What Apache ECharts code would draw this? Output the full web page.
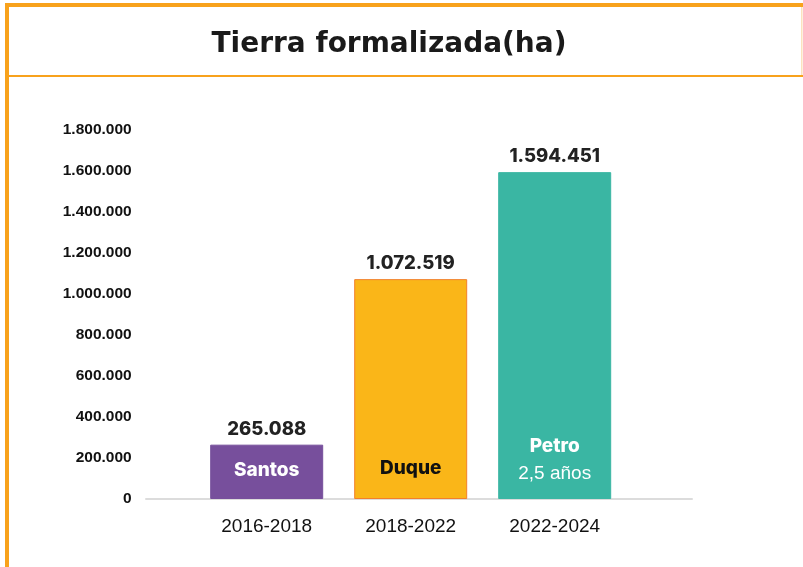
<!DOCTYPE html>
<html>
<head>
<meta charset="utf-8">
<script src="https://cdn.jsdelivr.net/npm/echarts@6/dist/echarts.min.js"></script>
<style>
  html, body { margin: 0; padding: 0; background: #fff; }
  #chart { width: 803px; height: 567px; }
</style>
</head>
<body>
<div id="chart"></div>
<script>
// ---- Data ----
var titleText = 'Tierra formalizada(ha)';
var periods = ['2016-2018', '2018-2022', '2022-2024'];
var leaders = ['Santos', 'Duque', 'Petro'];
var notes = ['', '', '2,5 años'];
var hectares = [265088, 1072519, 1594451];
var yTicks = [0, 200000, 400000, 600000, 800000, 1000000, 1200000, 1400000, 1600000, 1800000];

// ---- Styles ----
var barColors = ['#774F9C', '#FAB618', '#3AB6A3'];
var borderColors = ['#774F9C', '#F2802A', '#3AB6A3'];
var insideColors = ['#ffffff', '#111111', '#ffffff'];
var orange = '#F8A21C';

function fmt(v) {
  return String(v).replace(/\B(?=(\d{3})+(?!\d))/g, '.');
}

var valueData = hectares.map(function (v, i) {
  return {
    value: v,
    itemStyle: { color: barColors[i], borderColor: borderColors[i], borderWidth: 1 }
  };
});

var nameData = hectares.map(function (v, i) {
  var hasNote = notes[i] !== '';
  return {
    value: v,
    label: {
      distance: hasNote ? 11 : (i === 1 ? 17 : 15),
      color: insideColors[i],
      formatter: hasNote ? '{a|' + leaders[i] + '}\n{b|' + notes[i] + '}' : '{a|' + leaders[i] + '}'
    }
  };
});

var chart = echarts.init(document.getElementById('chart'), null, { renderer: 'canvas' });

chart.setOption({
  animation: false,
  backgroundColor: '#ffffff',
  graphic: [
    { type: 'rect', shape: { x: 5, y: 3, width: 798, height: 4 }, style: { fill: orange }, z: 100 },
    { type: 'rect', shape: { x: 5, y: 3, width: 4, height: 564 }, style: { fill: orange }, z: 100 },
    { type: 'rect', shape: { x: 9, y: 75, width: 794, height: 2 }, style: { fill: orange }, z: 100 },
    { type: 'rect', shape: { x: 801, y: 7, width: 1.5, height: 68 }, style: { fill: '#FCE2BE' }, z: 100 },
    {
      type: 'text', x: 389, y: 45, z: 100,
      style: {
        text: titleText,
        align: 'center',
        verticalAlign: 'middle',
        font: 'bold 28px "DejaVu Sans"',
        fill: '#1a1a1a'
      }
    }
  ],
  grid: [
    { left: 194.7, right: 176.3, top: 130, bottom: 68 },
    { left: 146, right: 111, top: 130, bottom: 68 }
  ],
  xAxis: [
    {
      type: 'category',
      gridIndex: 0,
      data: periods,
      axisLine: { show: false },
      axisTick: { show: false },
      axisLabel: {
        margin: 18,
        fontFamily: 'Liberation Sans',
        fontSize: 19,
        color: '#111111'
      }
    },
    {
      type: 'category',
      gridIndex: 1,
      data: [''],
      axisLine: { show: true, lineStyle: { color: '#DCDCDC', width: 2 } },
      axisTick: { show: false },
      axisLabel: { show: false }
    }
  ],
  yAxis: [
    {
      type: 'value',
      gridIndex: 0,
      min: 0,
      max: 1800000,
      interval: 200000,
      splitLine: { show: false },
      axisLine: { show: false },
      axisTick: { show: false },
      axisLabel: {
        margin: 63,
        fontFamily: 'Liberation Sans',
        fontWeight: 'bold',
        fontSize: 15.5,
        color: '#111111',
        formatter: function (v) { return fmt(v); }
      }
    },
    {
      type: 'value',
      gridIndex: 1,
      min: 0,
      max: 1,
      show: false
    }
  ],
  series: [
    {
      type: 'bar',
      xAxisIndex: 0,
      yAxisIndex: 0,
      barWidth: 113,
      data: valueData,
      z: 3,
      label: {
        show: true,
        position: 'top',
        distance: 6,
        fontFamily: 'Inter',
        fontWeight: 800,
        fontSize: 18.5,
        color: '#222222',
        formatter: function (p) { return fmt(p.value); }
      }
    },
    {
      type: 'bar',
      xAxisIndex: 0,
      yAxisIndex: 0,
      barWidth: 113,
      barGap: '-100%',
      data: nameData,
      z: 4,
      itemStyle: { color: 'rgba(0,0,0,0)' },
      label: {
        show: true,
        position: 'insideBottom',
        rich: {
          a: { fontFamily: 'Inter', fontWeight: 800, fontSize: 19, lineHeight: 28 },
          b: { fontFamily: 'Liberation Sans', fontWeight: 'normal', fontSize: 19, lineHeight: 28 }
        }
      }
    }
  ]
});
</script>
</body>
</html>
